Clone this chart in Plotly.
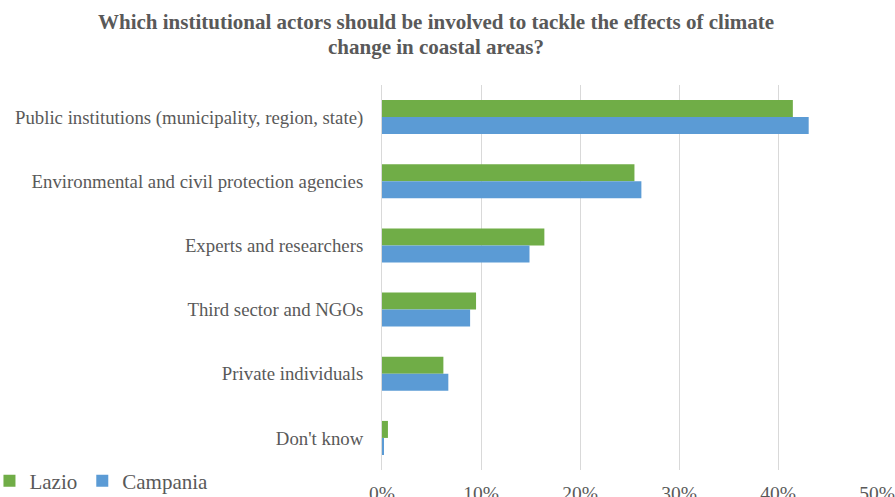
import plotly.graph_objects as go

categories = [
    "Public institutions (municipality, region, state)",
    "Environmental and civil protection agencies",
    "Experts and researchers",
    "Third sector and NGOs",
    "Private individuals",
    "Don't know",
]
lazio = [0.415, 0.255, 0.164, 0.095, 0.062, 0.006]
campania = [0.431, 0.262, 0.149, 0.089, 0.067, 0.002]
x_ticks = [0, 0.1, 0.2, 0.3, 0.4, 0.5]
title_lines = [
    "Which institutional actors should be involved to tackle the effects of climate",
    "change in coastal areas?",
]

font_family = "Liberation Serif"
text_grey = "#595959"

fig = go.Figure()
fig.add_trace(go.Bar(
    y=categories, x=lazio, name="Lazio", orientation="h",
    marker=dict(color="#70AD47", line=dict(width=0)),
))
fig.add_trace(go.Bar(
    y=categories, x=campania, name="Campania", orientation="h",
    marker=dict(color="#5B9BD5", line=dict(width=0)),
))

# Bold two-line heading, one annotation per line for tight line spacing
for i, line in enumerate(title_lines):
    fig.add_annotation(
        text=f"<b>{line}</b>",
        xref="paper", yref="paper", x=0.11, xanchor="center",
        y=1.0, yanchor="middle", yshift=63 - 25 * i, showarrow=False,
        font=dict(family=font_family, size=21, color=text_grey),
    )

fig.update_layout(
    width=895, height=497,
    margin=dict(l=382, r=18, t=85, b=27, autoexpand=False),
    paper_bgcolor="white", plot_bgcolor="white",
    barmode="group", bargap=0.47, bargroupgap=0,
    font=dict(family=font_family, color=text_grey, size=18),
    legend=dict(
        orientation="h", x=-0.793, xanchor="left", xref="paper",
        y=1 - 481 / 497, yanchor="middle", yref="container",
        font=dict(family=font_family, size=21, color=text_grey),
        itemwidth=30, bgcolor="rgba(0,0,0,0)",
    ),
    showlegend=True,
)
fig.update_xaxes(
    range=[0, 0.5], tickvals=x_ticks, tickformat=".0%",
    showgrid=True, gridcolor="#D9D9D9", gridwidth=1,
    zeroline=False, showline=False, ticks="",
    ticklabelstandoff=9,
    tickfont=dict(family=font_family, size=19.5, color=text_grey),
)
fig.update_yaxes(
    autorange="reversed", showgrid=False, showline=True,
    linecolor="#D9D9D9", ticks="", ticklabelstandoff=14,
    tickfont=dict(family=font_family, size=18.8, color=text_grey),
)

fig.write_html("out.html")
